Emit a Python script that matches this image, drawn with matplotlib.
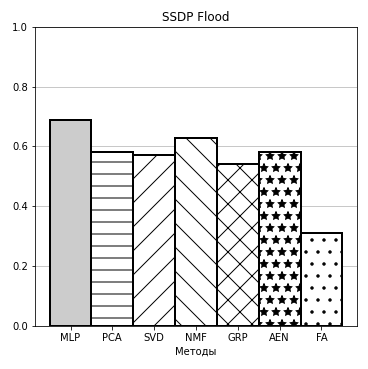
import matplotlib.pyplot as plt
import numpy as np

# data
methods = ['MLP', 'PCA', 'SVD', 'NMF', 'GRP', 'AEN', 'FA']
scores = [0.69, 0.58, 0.57, 0.63, 0.54, 0.58, 0.31]
hatches = ['', '-', '/', '\\', 'x', '*', '.']
fills = ['#cccccc', 'white', 'white', 'white', 'white', 'white', 'white']

fig, ax = plt.subplots(figsize=(368 / 72, 369 / 72), dpi=72)
fig.subplots_adjust(left=0.095, right=0.97, top=0.927, bottom=0.117)

x = np.arange(len(methods))
for i in range(len(methods)):
    ax.bar(x[i], scores[i], width=1.0, color=fills[i], edgecolor='black',
           linewidth=2, hatch=hatches[i], zorder=3)

ax.set_xticks(x)
ax.set_xticklabels(methods)
ax.set_ylim(0, 1.0)
ax.yaxis.grid(True, color='#c8c8c8', linewidth=1)
ax.set_axisbelow(True)
ax.set_title('SSDP Flood', fontsize=12)
ax.set_xlabel('Методы')

fig.savefig('out.png', dpi=72)
